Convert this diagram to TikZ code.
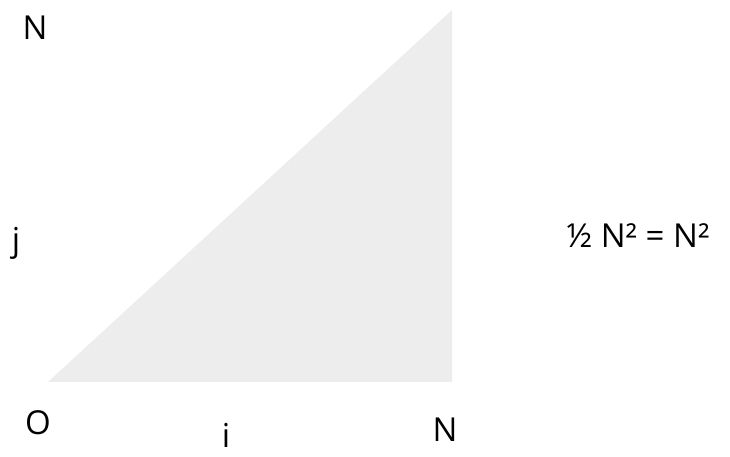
\documentclass[tikz,border=0pt]{standalone}
\usepackage{fontspec}
\setmainfont{Open Sans}
\usepackage{tikz}
\usetikzlibrary{positioning}

\tikzset{
  lbl/.style={inner sep=0pt, font=\fontsize{33}{36}\selectfont, text=black},
}

\begin{document}
\begin{tikzpicture}[x=1pt, y=1pt]

    % Canvas
    \useasboundingbox (0,0) rectangle (730,457);

    % =====================================================
    % TRIANGLE (area below the diagonal)
    % =====================================================
    \coordinate (origin) at (48,75);
    \coordinate (corner) at (452,75);
    \coordinate (apex) at (452,447);
    \fill[gray!14] (origin) -- (corner) -- (apex) -- cycle;

    % Labels
    \node[lbl] (ntop) at (35,429) {N};
    \node[lbl] (jlab) at (16,214) {j};
    \node[lbl] (olab) at (38,34) {O};
    \node[lbl] (ilab) at (226,22) {i};
    \node[lbl] (nright) at (445,27) {N};

    % Formula
    \node[lbl] (formula) at (638,221) {½ N² = N²};

\end{tikzpicture}
\end{document}
